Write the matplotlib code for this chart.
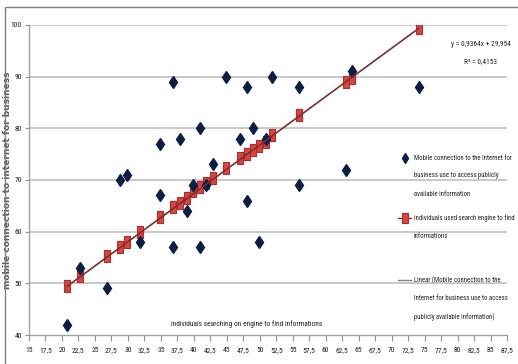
import matplotlib.pyplot as plt
from matplotlib import font_manager
from matplotlib.font_manager import FontProperties
from matplotlib.lines import Line2D
from matplotlib.patches import Rectangle

# values
search_engine = [20.8, 22.7, 26.8, 28.8, 29.8, 31.8, 34.8, 34.8, 36.9, 36.9,
                 37.9, 38.9, 39.9, 40.9, 40.9, 41.9, 42.9, 44.9, 47.0, 48.0,
                 48.0, 49.0, 49.9, 50.9, 51.9, 56.0, 56.0, 63.1, 64.0, 74.1]
mobile_business = [42, 53, 49, 70, 71, 58, 77, 67, 89, 57,
                   78, 64, 69, 80, 57, 69, 73, 90, 78, 88,
                   66, 80, 58, 78, 90, 88, 69, 72, 91, 88]
search_used = [49.4, 51.5, 55.2, 57.1, 58.0, 60.0, 62.9, 62.9, 64.7, 64.7,
               65.5, 66.5, 67.8, 68.7, 68.7, 69.5, 70.3, 72.3, 74.2, 75.0,
               75.0, 75.8, 76.6, 77.4, 78.7, 82.6, 82.6, 89.0, 89.7, 99.4]

slope, intercept = 0.9364, 29.954
r2 = 0.4153

xticks = [15 + 2.5 * i for i in range(30)]
yticks = [40, 50, 60, 70, 80, 90, 100]


def pick_narrow_font():
    # prefer a condensed face if the machine has one, otherwise Liberation Sans
    fonts = font_manager.fontManager.ttflist
    names = {f.name for f in fonts}
    for n in ['Liberation Sans Narrow', 'Roboto Condensed', 'Open Sans Condensed',
              'Noto Sans Condensed', 'DejaVu Sans Condensed', 'Arial Narrow']:
        if n in names:
            return FontProperties(family=n)
    for f in fonts:
        if 'condensed' in str(f.stretch) and f.weight in (400, 'normal', 'regular'):
            return FontProperties(family=f.name, stretch=f.stretch)
    for n in ['Liberation Sans', 'Roboto', 'DejaVu Sans']:
        if n in names:
            return FontProperties(family=n)
    return FontProperties()


narrow = pick_narrow_font()

W, H = 518, 364
fig = plt.figure(figsize=(W / 100, H / 100), dpi=100)
fig.patches.append(Rectangle((5 / W, -0.05), 1.1, 1 - 7 / H + 0.05, transform=fig.transFigure,
                             fill=False, edgecolor='#808080', linewidth=1.0))


def fx(px):
    return px / W


def fy(py):
    return 1 - py / H


ax = fig.add_axes([29 / W, 29 / H, 478 / W, 310 / H])
ax.set_xlim(15, 87.5)
ax.set_ylim(40, 100)

for y in yticks[1:]:
    ax.axhline(y, color='#c4c4c4', linewidth=1.3, zorder=0)

ax.plot(search_engine, mobile_business, linestyle='none', marker='d', markersize=6,
        color='#0b1f45', zorder=3)
rect = [(-0.62, -1), (0.62, -1), (0.62, 1), (-0.62, 1), (-0.62, -1)]
ax.plot(search_engine, search_used, linestyle='none', marker=rect, markersize=8,
        markerfacecolor='#d9453f', markeredgecolor='#a83030', markeredgewidth=0.8, zorder=2)
x0, x1 = min(search_engine), max(search_engine)
ax.plot([x0, x1], [slope * x0 + intercept, slope * x1 + intercept],
        color='#7a2e2e', linewidth=1.2, zorder=4)

tick_fp = narrow.copy()
tick_fp.set_size(5.5)
ax.set_xticks(xticks)
ax.set_xticklabels([('%g' % t).replace('.', ',') for t in xticks], fontproperties=tick_fp)
ax.set_yticks(yticks)
ax.set_yticklabels([str(t) for t in yticks], fontproperties=tick_fp)
ax.tick_params(axis='x', length=4, width=0.8, color='#909090', pad=5, labelcolor='#202020')
ax.tick_params(axis='y', length=3, width=0.8, color='#909090', pad=2, labelcolor='#202020')
for s in ['top', 'right']:
    ax.spines[s].set_visible(False)
for s in ['left', 'bottom']:
    ax.spines[s].set_color('#a0a0a0')
    ax.spines[s].set_linewidth(1.0)

ax.set_ylabel('mobile connection to internet for business', fontsize=6.5, fontweight='bold',
              color='#5a5a5a')
ax.yaxis.set_label_coords((12 - 29) / 478, 0.5)

texts = []
xlab = ax.text(0.455, 0.035, 'individuals searching on engine to find informations',
               transform=ax.transAxes, ha='center', va='center', fontproperties=narrow,
               fontsize=6, color='#202020')
texts.append((xlab, 150))

eq1 = fig.text(fx(481), fy(44), 'y = 0,9364x + 29,954', ha='center', va='center',
               fontproperties=narrow, fontsize=6, color='#202020')
eq2 = fig.text(fx(481), fy(62), 'R² = %s' % str(r2).replace('.', ','), ha='center', va='center',
               fontproperties=narrow, fontsize=6, color='#202020')
texts.append((eq1, 60))

# legend drawn by hand so the keys sit on the first line of each label
legend_lines = [
    (158, 'Mobile connection to the Internet for'),
    (175, 'business use to access publicly'),
    (195, 'available information'),
    (218, 'individuals used search engine to find'),
    (237, 'informations'),
    (280, 'Linear (Mobile connection to the'),
    (298, 'Internet for business use to access'),
    (317, 'publicly available information)'),
]
leg_texts = []
for py, txt in legend_lines:
    leg_texts.append(fig.text(fx(414), fy(py), txt, ha='left', va='center', fontproperties=narrow,
                              fontsize=6, color='#202020'))

fig.add_artist(Line2D([fx(405)], [fy(158)], marker='d', markersize=5.5, color='#0b1f45',
                      transform=fig.transFigure))
fig.add_artist(Line2D([fx(398), fx(411)], [fy(218), fy(218)], color='#7a2e2e', linewidth=1.0,
                      transform=fig.transFigure))
fig.add_artist(Line2D([fx(404.5)], [fy(218)], marker=rect, markersize=7.5,
                      markerfacecolor='#d9453f', markeredgecolor='#a83030', markeredgewidth=0.8,
                      transform=fig.transFigure))
fig.add_artist(Line2D([fx(398), fx(411)], [fy(280), fy(280)], color='#808080', linewidth=1.0,
                      transform=fig.transFigure))

# shrink the small texts to about the widths they take in the reference
renderer = fig.canvas.get_renderer()
for t, target in texts:
    w = t.get_window_extent(renderer).width
    t.set_fontsize(min(6.5, t.get_fontsize() * target / w))
eq2.set_fontsize(eq1.get_fontsize())
w = max(t.get_window_extent(renderer).width for t in leg_texts)
leg_size = min(6.5, 6 * 101 / w)
for t in leg_texts:
    t.set_fontsize(leg_size)

fig.savefig('out.png', dpi=100)
